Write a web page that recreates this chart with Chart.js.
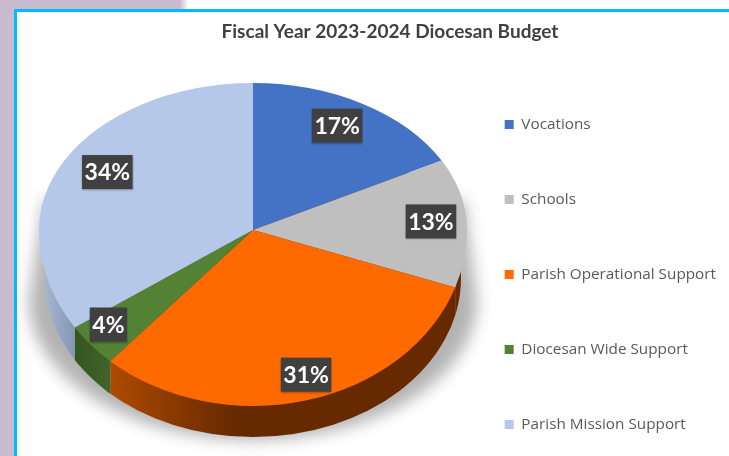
<!DOCTYPE html>
<html>
<head>
<meta charset="utf-8">
<title>Fiscal Year 2023-2024 Diocesan Budget</title>
<script src="https://cdn.jsdelivr.net/npm/chart.js@4/dist/chart.umd.min.js"></script>
<style>
  html, body { margin: 0; padding: 0; background: #fff; }
  #page { position: relative; width: 729px; height: 456px; overflow: hidden; background: #fff; }
  #side { position: absolute; left: 0; top: 0; width: 187px; height: 456px;
    background: linear-gradient(to right, #c9bbcf 96%, #f4f0f5 100%); }
  #frame { position: absolute; left: 14px; top: 9px; width: 712px; height: 470px;
    border: 3px solid #00bcf8; background: #fff; }
  canvas { position: absolute; left: 0; top: 0; }
</style>
</head>
<body>
<div id="page">
  <div id="side"></div>
  <div id="frame"></div>
  <canvas id="budget" width="800" height="549" style="width:800px;height:549px"></canvas>
</div>
<script>
'use strict';

const categories = ['Vocations', 'Schools', 'Parish Operational Support', 'Diocesan Wide Support', 'Parish Mission Support'];
const shares = [17, 13, 31, 4, 34];
const percentLabels = ['17%', '13%', '31%', '4%', '34%'];
const sliceColors = ['#4472c4', '#bfbfbf', '#ff6a00', '#548235', '#b6c8e9'];

// side wall colours, left end and right end of each slice
const wallColors = [
  ['#2f5597', '#2f5597'],
  ['#662900', '#662900'],
  ['#ad4b00', '#662900'],
  ['#35551f', '#40642a'],
  ['#aebcd6', '#8496b4'],
];

// the tilted pie: top half and bottom half of the face have different heights
const face = { x: 253, y: 230, rx: 214, ryTop: 147, ryBottom: 176 };
const base = { x: 253, y: 278, rx: 208, ry: 159 };
// label nudges on top of the anchor on the slice
const labelNudge = [[-6, -1], [3, 1], [9, 5], [-12, 0], [9, -1]];

const tiltedPie = {
  id: 'tiltedPie',
  beforeDatasetsDraw(chart) {
    const ctx = chart.ctx;
    const arcs = chart.getDatasetMeta(0).data;

    // soft shadow under the pie, the shape itself stays off the canvas
    ctx.save();
    ctx.shadowColor = 'rgba(0,0,0,0.3)';
    ctx.shadowBlur = 16;
    ctx.shadowOffsetX = 2000;
    ctx.beginPath();
    ctx.moveTo(44 - 2000, 200);
    ctx.lineTo(464 - 2000, 200);
    ctx.lineTo(477 - 2000, 300);
    ctx.ellipse(base.x - 2000, 300, 224, 140, 0, 0, Math.PI);
    ctx.closePath();
    ctx.fill();
    ctx.restore();

    // side wall: the base ellipse cut into the x range of each slice
    arcs.forEach((arc, i) => {
      const from = Math.max(arc.startAngle, 0);
      const to = Math.min(arc.endAngle, Math.PI);
      if (to <= from) return;
      const right = face.x + face.rx * Math.cos(from);
      const left = face.x + face.rx * Math.cos(to);
      const grad = ctx.createLinearGradient(left, 0, i === 2 ? left + 125 : right, 0);
      grad.addColorStop(0, wallColors[i][0]);
      grad.addColorStop(1, wallColors[i][1]);
      ctx.save();
      ctx.beginPath();
      ctx.rect(left, 0, right - left, 549);
      ctx.clip();
      ctx.fillStyle = grad;
      ctx.beginPath();
      ctx.ellipse(base.x, base.y, base.rx, base.ry, 0, 0, Math.PI * 2);
      ctx.fill();
      ctx.restore();
    });

    // the face, library arcs squashed by a different amount above and below the centre
    [[0, face.y + 0.5, face.ryTop], [face.y, 549, face.ryBottom]].forEach(([y0, y1, ry]) => {
      ctx.save();
      ctx.beginPath();
      ctx.rect(0, y0, 800, y1 - y0);
      ctx.clip();
      arcs.forEach(arc => {
        ctx.save();
        ctx.translate(face.x, face.y);
        ctx.scale(face.rx / arc.outerRadius, ry / arc.outerRadius);
        ctx.translate(-arc.x, -arc.y);
        arc.draw(ctx);
        ctx.restore();
      });
      ctx.restore();
    });
    return false;
  },
  afterDraw(chart) {
    const ctx = chart.ctx;
    ctx.save();
    ctx.font = 'bold 23px Lato';
    ctx.textAlign = 'center';
    ctx.textBaseline = 'middle';
    chart.getDatasetMeta(0).data.forEach((arc, i) => {
      const mid = (arc.startAngle + arc.endAngle) / 2;
      const sin = Math.sin(mid);
      const x = face.x + 0.82 * face.rx * Math.cos(mid) + labelNudge[i][0];
      const y = face.y + 0.82 * (sin < 0 ? face.ryTop : face.ryBottom) * sin + labelNudge[i][1];
      const w = ctx.measureText(percentLabels[i]).width + 5;
      ctx.save();
      ctx.shadowColor = 'rgba(0,0,0,0.3)';
      ctx.shadowBlur = 2;
      ctx.shadowOffsetY = 1;
      ctx.fillStyle = '#404040';
      ctx.fillRect(x - w / 2, y - 17, w, 34);
      ctx.restore();
      ctx.fillStyle = '#fff';
      ctx.fillText(percentLabels[i], x, y + 1);
    });
    ctx.restore();
  }
};

new Chart(document.getElementById('budget').getContext('2d'), {
  type: 'pie',
  data: {
    labels: categories,
    datasets: [{ data: shares, backgroundColor: sliceColors, borderWidth: 0 }]
  },
  options: {
    responsive: false,
    animation: false,
    layout: { padding: { left: 54, right: 74 } },
    plugins: {
      title: {
        display: true,
        text: 'Fiscal Year 2023-2024 Diocesan Budget',
        color: '#404040',
        font: { family: 'Lato', size: 19, weight: 'bold' },
        padding: { top: 20, bottom: 6 }
      },
      legend: {
        position: 'right',
        labels: {
          color: '#595959',
          font: { family: 'Open Sans', size: 15.3 },
          boxWidth: 9,
          boxHeight: 9,
          padding: 59.7
        }
      },
      tooltip: { enabled: false }
    }
  },
  plugins: [tiltedPie]
});
</script>
</body>
</html>
